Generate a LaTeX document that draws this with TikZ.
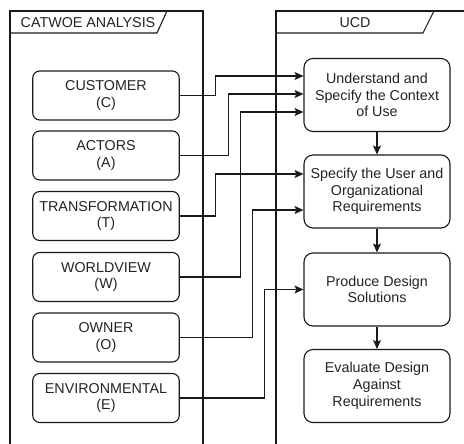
\documentclass[tikz,border=0pt]{standalone}
\usepackage{fontspec}
\setmainfont{Liberation Sans}
\usetikzlibrary{arrows.meta}
\definecolor{txt}{HTML}{222222}
\definecolor{ln}{HTML}{1A1A1A}
\begin{document}
\begin{tikzpicture}[x=1pt,y=-1pt,
  line width=1.1pt, draw=ln,
  lbox/.style={draw=ln, text=txt, rounded corners=7pt, minimum width=146.5pt, minimum height=49pt, align=center, inner sep=0pt, font=\fontsize{14.3}{16.7}\selectfont},
  rbox/.style={draw=ln, text=txt, rounded corners=9pt, minimum width=146pt, minimum height=73pt, align=center, inner sep=0pt, font=\fontsize{14.3}{16.7}\selectfont},
  arr/.style={draw=ln, -{Stealth[length=9pt,width=8pt,inset=2pt]}},
  ttl/.style={text=txt, font=\fontsize{14.3}{16.7}\selectfont, anchor=center, inner sep=0pt}
]
\useasboundingbox (0,0) rectangle (464,444);
\clip (0,0) rectangle (464,444);
% frames
\draw[ln] (10,460) -- (10,11) -- (203,11) -- (203,460);
\draw[ln] (10,33) -- (157,33) -- (167,11);
\node[ttl] (t1) at (88,22.5) {CATWOE ANALYSIS};
\draw[ln] (276,460) -- (276,11) -- (470,11);
\draw[ln] (276,33) -- (423,33) -- (434,11);
\node[ttl] (t2) at (355,22.5) {UCD};
% left boxes
\node[lbox] (cust) at (106,95.5) {CUSTOMER\\(C)};
\node[lbox] (act) at (106,155.5) {ACTORS\\(A)};
\node[lbox] (trans) at (106,216) {TRANSFORMATION\\(T)};
\node[lbox] (world) at (106,277) {WORLDVIEW\\(W)};
\node[lbox] (own) at (106,337.5) {OWNER\\(O)};
\node[lbox] (env) at (106,398) {ENVIRONMENTAL\\(E)};
% right boxes
\node[rbox] (u1) at (377,95) {Understand and\\Specify the Context\\of Use};
\node[rbox] (u2) at (377,191.5) {Specify the User and\\Organizational\\Requirements};
\node[rbox] (u3) at (377,289.5) {Produce Design\\Solutions};
\node[rbox] (u4) at (377,386) {Evaluate Design\\Against\\Requirements};
% vertical arrows
\draw[arr] (u1) -- (u2);
\draw[arr] (u2) -- (u3);
\draw[arr] (u3) -- (u4);
% connectors
\draw[arr] (cust.east) -- ++(35.5,0) |- ([yshift=19pt]u1.west);
\draw[arr] (act.east) -- ++(48.5,0) |- ([yshift=1pt]u1.west);
\draw[arr] (trans.east) -- ++(35.5,0) |- ([yshift=17.5pt]u2.west);
\draw[arr] (world.east) -- ++(60.5,0) |- ([yshift=-17pt]u1.west);
\draw[arr] (own.east) -- ++(72.5,0) |- ([yshift=-18.5pt]u2.west);
\draw[arr] (env.east) -- ++(84.5,0) |- ([yshift=0pt]u3.west);
\end{tikzpicture}
\end{document}
